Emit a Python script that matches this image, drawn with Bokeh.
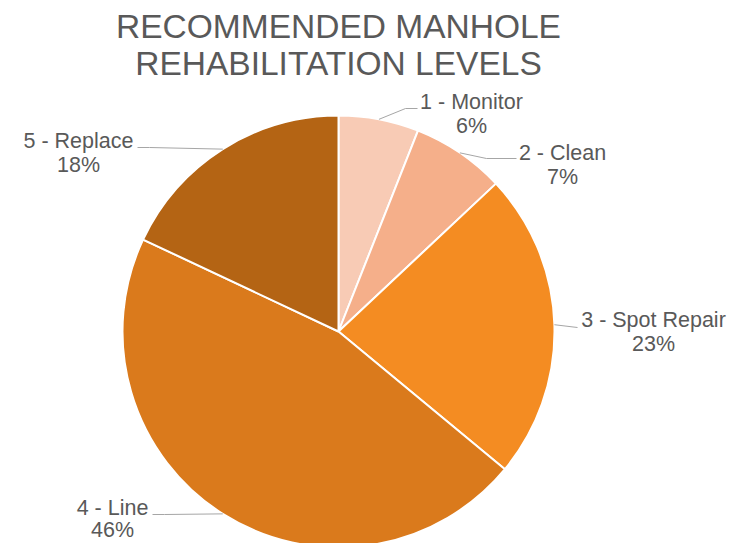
from math import pi, sin, cos
from bokeh.plotting import figure
from bokeh.models import Range1d, ColumnDataSource
from bokeh.embed import file_html
from bokeh.resources import INLINE
from bokeh.core.properties import value

# ---- data ----
categories = ["1 - Monitor", "2 - Clean", "3 - Spot Repair", "4 - Line", "5 - Replace"]
percent = [6, 7, 23, 46, 18]
colors = ["#F8CBB5", "#F5AF8A", "#F48C22", "#DA7A1C", "#B46414"]
title_lines = ["RECOMMENDED MANHOLE", "REHABILITATION LEVELS"]

# ---- layout (page pixel coordinates; y downward) ----
W, H = 745, 543
PAGE_H = 543
cx_pg, cy_pg, R = 338, 331, 216
# first-line label centers
label_pos = [(471, 101), (562, 152), (653, 319), (112, 507), (78, 140)]
# leader end points (near side of label)
leader_end = [(417, 108), (516, 158), (577, 327), (152, 514), (137, 147)]
elbow_dx = [-12, -30, 0, 12, 12]
line_gap = [24, 24, 24, 22, 24]

def Y(py):
    return PAGE_H - py

p = figure(width=W, height=H, output_backend="svg", toolbar_location=None,
           x_range=Range1d(0, W), y_range=Range1d(PAGE_H - H, PAGE_H),
           min_border=0)
p.axis.visible = False
p.grid.visible = False
p.outline_line_color = None
p.background_fill_color = "white"

total = float(sum(percent))
starts, ends, mids = [], [], []
cum = 0.0
for v in percent:
    a0 = pi / 2 - 2 * pi * (cum + v) / total
    a1 = pi / 2 - 2 * pi * cum / total
    starts.append(a0)
    ends.append(a1)
    mids.append((a0 + a1) / 2)
    cum += v

src = ColumnDataSource(dict(start=starts, end=ends, color=colors))
p.wedge(x=cx_pg, y=Y(cy_pg), radius=R, start_angle="start", end_angle="end",
        fill_color="color", line_color="white", line_width=2, source=src)

# leader lines
for m, (ex, ey), dx in zip(mids, leader_end, elbow_dx):
    sx = cx_pg + R * cos(m)
    sy = Y(cy_pg) + R * sin(m)
    p.line([sx, ex + dx, ex], [sy, Y(ey), Y(ey)], line_color="#A6A6A6", line_width=1)

# labels
lx = [x for x, y in label_pos]
ly1 = [Y(y) for x, y in label_pos]
ly2 = [Y(y + g) for (x, y), g in zip(label_pos, line_gap)]
pct_text = [f"{v}%" for v in percent]
common = dict(text_align="center", text_baseline="middle", text_color="#595959",
              text_font=value("Liberation Sans"), text_font_size="21.5px")
p.text(x=lx, y=ly1, text=categories, **common)
p.text(x=lx, y=ly2, text=pct_text, **common)

# title
p.text(x=[338, 338], y=[Y(26), Y(63)], text=title_lines, text_align="center",
       text_baseline="middle", text_color="#595959",
       text_font=value("Liberation Sans"), text_font_size="33.5px")

open("out.html", "w").write(file_html(p, INLINE))
